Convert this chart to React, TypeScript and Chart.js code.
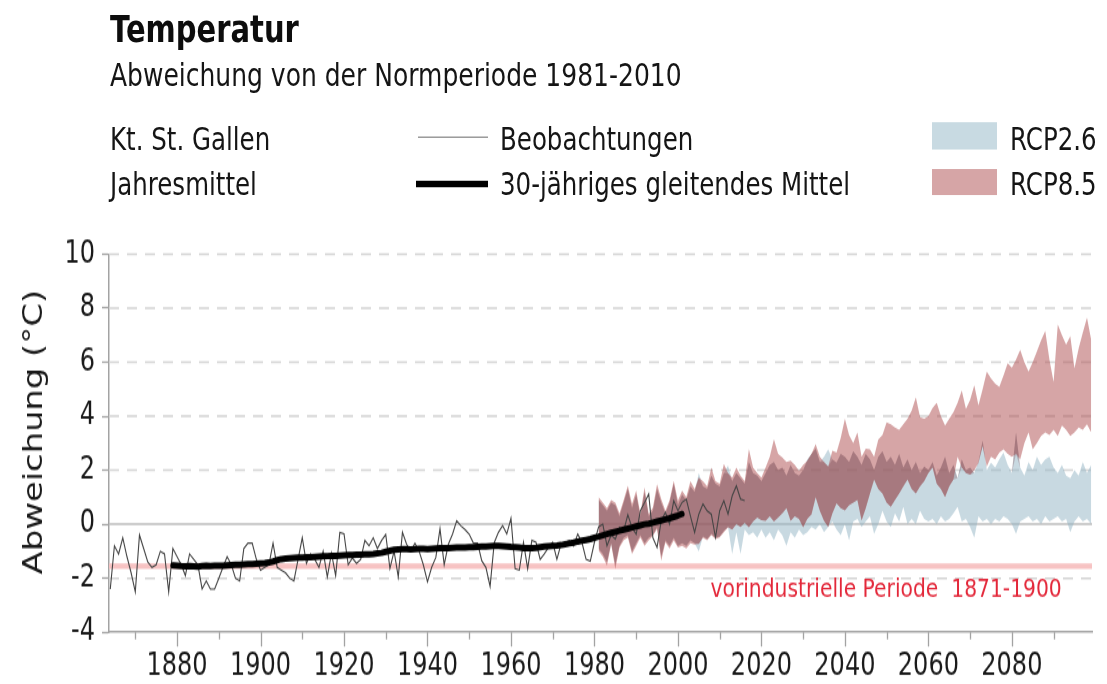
import React, { useEffect, useRef } from "react";
import { Chart, registerables } from "chart.js";

Chart.register(...registerables);

// ---------------- data ----------------
const OBS_START = 1864;
// annual mean anomaly, Kt. St. Gallen, 1864-2016
const OBS_VALUES = [
  -2.4, -0.8, -1.1, -0.5, -1.2, -1.8, -2.5, -0.4, -0.9, -1.4,
  -1.6, -1.5, -1.0, -1.1, -2.5, -0.9, -1.2, -1.5, -1.9, -1.1,
  -1.3, -1.5, -2.4, -2.1, -2.4, -2.4, -2.0, -1.6, -1.2, -1.5,
  -2.0, -2.1, -0.9, -0.7, -0.7, -1.3, -1.7, -1.6, -1.5, -0.7,
  -1.6, -1.7, -1.8, -2.0, -2.1, -1.3, -0.5, -1.45, -1.1, -1.3,
  -1.6, -1.0, -1.95, -1.07, -1.9, -0.3, -0.35, -1.5, -1.25, -1.45,
  -1.3, -0.6, -0.8, -0.5, -0.9, -0.6, -0.38, -1.64, -1.0, -1.95,
  -0.3, -0.74, -1.0, -0.7, -1.0, -1.5, -2.13, -1.6, -1.23, -0.17,
  -1.5, -0.74, -0.37, 0.13, -0.06, -0.2, -0.37, -0.7, -0.7, -1.35,
  -1.6, -2.3, -0.68, -0.3, -0.05, -0.36, 0.22, -1.65, -1.7, -0.67,
  -1.65, -0.6, -0.67, -1.3, -1.1, -0.86, -0.67, -1.3, -0.73, -0.67,
  -0.6, -0.8, -0.36, -0.67, -1.3, -1.37, -0.67, -0.1, 0.0, -0.8,
  -0.4, -0.55, -0.12, -0.24, 0.35, -0.12, -0.37, 0.5, 0.8, 1.12,
  -0.5, -0.86, 0.13, 0.44, 0.0, 0.87, 0.5, 0.81, 0.93, 0.3,
  -0.3, 0.37, 0.75, 0.5, 0.37, -0.49, 0.5, 0.87, 0.37, 1.05,
  1.42, 0.93, 0.87,
];

const SMOOTH_START = 1879;
// 30-year running mean, 1879-2001
const SMOOTH_VALUES = [
  -1.52, -1.53, -1.55, -1.56, -1.55, -1.56, -1.57, -1.55, -1.54, -1.55,
  -1.54, -1.53, -1.54, -1.52, -1.51, -1.5, -1.5, -1.49, -1.48, -1.47,
  -1.46, -1.45, -1.44, -1.42, -1.38, -1.33, -1.29, -1.27, -1.26, -1.25,
  -1.24, -1.23, -1.22, -1.22, -1.21, -1.2, -1.19, -1.18, -1.17, -1.17,
  -1.16, -1.15, -1.14, -1.14, -1.13, -1.12, -1.11, -1.11, -1.1, -1.08,
  -1.06, -1.02, -0.98, -0.95, -0.93, -0.92, -0.92, -0.93, -0.92, -0.91,
  -0.91, -0.92, -0.91, -0.9, -0.89, -0.88, -0.88, -0.87, -0.86, -0.86,
  -0.86, -0.85, -0.85, -0.84, -0.83, -0.82, -0.81, -0.8, -0.8, -0.81,
  -0.82, -0.84, -0.85, -0.86, -0.88, -0.89, -0.88, -0.87, -0.85, -0.83,
  -0.81, -0.8, -0.79, -0.77, -0.74, -0.71, -0.68, -0.64, -0.61, -0.58,
  -0.55, -0.5, -0.46, -0.41, -0.36, -0.32, -0.28, -0.24, -0.2, -0.16,
  -0.12, -0.08, -0.04, 0.0, 0.02, 0.06, 0.1, 0.14, 0.18, 0.22,
  0.27, 0.32, 0.38,
];

const PROJ_START = 1981;
// scenario ranges, 1981-2099
const RCP85_HIGH = [
  1.0, 0.8, 0.6, 0.9, 0.8, 0.4, 0.9, 1.43, 0.75, 1.24,
  0.38, 1.36, 0.38, 0.62, 1.49, 0.93, 0.5, 0.9, 1.61, 0.87,
  1.24, 1.0, 1.6, 1.3, 1.73, 1.6, 1.4, 2.1, 1.6, 1.5,
  2.23, 1.9, 1.73, 2.1, 1.8, 1.6, 2.78, 2.1, 1.9, 1.73,
  2.1, 2.5, 3.15, 2.6, 2.47, 2.3, 2.35, 2.2, 1.98, 2.2,
  2.35, 2.6, 2.97, 2.5, 2.3, 2.14, 2.72, 2.65, 3.2, 3.9,
  3.3, 3.0, 3.4, 2.5, 2.8, 2.77, 2.5, 3.14, 3.3, 3.77,
  3.7, 3.58, 3.5, 3.7, 3.9, 4.2, 4.7, 3.96, 3.9, 4.0,
  4.3, 4.5, 4.0, 3.65, 3.9, 4.15, 4.5, 4.95, 4.27, 4.6,
  5.14, 4.4, 5.0, 5.65, 5.4, 5.2, 5.08, 5.5, 5.96, 5.8,
  6.1, 6.46, 6.0, 5.65, 6.0, 6.4, 6.8, 7.15, 6.1, 5.27,
  7.4, 7.0, 6.65, 6.96, 5.77, 6.5, 7.1, 7.65, 6.83,
];
const RCP85_LOW = [
  -0.98, -1.2, -1.54, -0.73, -1.66, -0.86, -0.6, -0.49, -1.1, -0.8,
  -0.49, -0.8, -0.6, -0.43, -0.18, -1.35, -0.67, -0.9, -0.6, -0.86,
  -0.8, -0.9, -0.7, -0.75, -0.73, -0.5, -0.6, -0.4, -0.55, -0.49,
  -0.3, -0.12, -0.2, 0.0, -0.1, 0.05, -0.12, 0.1, 0.25, 0.15,
  0.12, 0.3, 0.1, 0.25, 0.4, 0.6, 0.12, 0.3, 0.2, -0.12,
  0.2, 0.37, 1.0, 0.5, 0.12, -0.1, 0.4, 0.77, 0.6, 0.51,
  0.7, 0.8, 0.9, 0.14, 0.6, 1.14, 1.65, 1.3, 1.14, 0.8,
  0.64, 0.9, 1.14, 1.4, 1.65, 1.3, 1.14, 1.4, 1.6, 1.9,
  2.1, 1.5, 1.3, 1.0, 1.4, 1.65, 2.5, 2.1, 1.9, 1.83,
  2.0, 2.27, 2.9, 2.14, 2.5, 2.4, 2.65, 2.77, 2.6, 2.5,
  2.6, 2.4, 3.0, 3.4, 2.77, 3.0, 3.27, 3.4, 3.3, 3.5,
  3.27, 3.65, 3.5, 3.27, 3.4, 3.58, 3.5, 3.7, 3.4,
];
const RCP26_HIGH = [
  0.9, 0.7, 0.5, 0.8, 0.7, 0.3, 0.8, 1.3, 0.6, 1.1,
  0.3, 1.2, 0.3, 0.5, 1.3, 0.8, 0.4, 0.8, 1.5, 0.7,
  1.1, 0.9, 1.4, 1.2, 1.9, 1.4, 1.3, 1.8, 1.5, 1.4,
  1.9, 2.17, 1.6, 1.9, 1.7, 1.5, 2.3, 1.9, 1.8, 1.6,
  1.9, 2.2, 2.3, 2.0, 2.1, 1.8, 2.2, 1.9, 1.8, 2.0,
  2.4, 2.6, 2.8, 2.3, 2.5, 2.77, 2.4, 2.28, 2.6, 2.5,
  2.3, 2.7, 2.5, 2.2, 2.6, 2.4, 2.0, 2.5, 2.7, 2.3,
  2.5, 2.2, 2.6, 2.1, 2.4, 2.0, 2.3, 1.9, 2.14, 2.0,
  2.3, 1.8, 2.1, 2.5, 1.9, 2.2, 1.7, 2.4, 2.0, 2.1,
  1.9, 2.3, 3.1, 2.0, 2.28, 2.1, 2.4, 2.65, 2.2, 1.9,
  3.4, 2.1, 1.8, 2.3, 2.0, 2.5, 2.2, 2.4, 2.5, 2.1,
  1.9, 2.2, 1.8, 1.7, 2.0, 1.8, 2.3, 1.9, 2.2,
];
const RCP26_LOW = [
  -0.9, -1.1, -1.4, -0.7, -1.5, -0.8, -0.5, -0.4, -1.0, -0.7,
  -0.4, -0.7, -0.5, -0.4, -0.1, -1.2, -0.6, -0.8, -0.5, -0.8,
  -0.7, -0.8, -0.6, -0.7, -1.0, -0.45, -0.55, -0.35, -0.5, -0.45,
  -0.25, -0.1, -1.1, -0.3, -1.1, -0.2, -0.4, -0.3, -0.5, -0.2,
  -0.5, -0.3, -0.6, -0.2, -0.4, -0.8, -0.3, -0.5, -0.2, -0.4,
  -0.3, -0.1, -0.2, 0.0, -0.3, -0.1, 0.1, -0.2, -0.4, 0.0,
  -0.6, 0.1, 0.2, -0.1, 0.1, 0.3, -0.35, 0.0, 0.5, 0.1,
  -0.1, 0.4, 0.1, 0.64, 0.0, 0.2, 0.0, 0.5, 0.2, 0.1,
  0.2, 0.0, 0.3, 0.1, 0.2, 0.4, 0.64, 0.1, 0.2, -0.1,
  -0.5, 0.3, 0.1, 0.2, 0.0, 0.2, 0.1, 0.3, 0.2, 0.0,
  -0.35, 0.1, 0.2, 0.3, 0.1, 0.2, 0.0, 0.3, 0.1, 0.2,
  0.3, 0.1, 0.2, -0.3, 0.1, 0.3, 0.1, 0.2, 0.0,
];

const PREINDUSTRIAL = -1.55;
const PREIND_LABEL = "vorindustrielle Periode  1871-1900";
const Y_TITLE = "Abweichung (°C)";
const X_MIN = 1863.7;
const X_MAX = 2099.2;
const Y_MIN = -4;
const Y_MAX = 10;
const X_LABEL_YEARS = [1880, 1900, 1920, 1940, 1960, 1980, 2000, 2020, 2040, 2060, 2080];

// ---------------- styling ----------------
const W = 1107;
const H = 526;
const STRETCH = 684 / H;
const FONT = '"DejaVu Sans", sans-serif';
const AXIS = "#a3a3a3";
const GRID = "#d4d4d4";
const ZERO = "#bcbcbc";
const PINK = "#f7c3c3";
const RED_TEXT = "#e3283a";
const BLUE_FILL = "rgba(145,180,196,0.5)";
const RED_FILL = "rgba(173,75,77,0.5)";
const OVERLAP_FILL = "rgba(110,40,50,0.24)";
const LEGEND_BLUE = "rgb(200,218,226)";
const LEGEND_RED = "rgb(214,165,166)";

const series = (start: number, values: (number | null)[]) =>
  values.map((v, i) => ({ x: start + i, y: v }));

const overlap = () => {
  const lo: { x: number; y: number }[] = [];
  const hi: { x: number; y: number }[] = [];
  RCP26_LOW.forEach((_, i) => {
    const l = Math.max(RCP26_LOW[i], RCP85_LOW[i]);
    const h = Math.min(RCP26_HIGH[i], RCP85_HIGH[i]);
    lo.push({ x: PROJ_START + i, y: Math.min(l, h) });
    hi.push({ x: PROJ_START + i, y: h });
  });
  return { lo, hi };
};

const decorPlugin = {
  id: "decor",
  beforeDatasetsDraw(chart: any) {
    const { ctx, chartArea: a, scales } = chart;
    const y = scales.y;
    ctx.save();
    y.ticks.forEach((t: any) => {
      if (t.value === Y_MIN) return;
      const py = y.getPixelForValue(t.value);
      ctx.beginPath();
      if (t.value === 0) {
        ctx.setLineDash([]);
        ctx.strokeStyle = ZERO;
      } else {
        ctx.setLineDash([10, 8]);
        ctx.strokeStyle = GRID;
      }
      ctx.lineWidth = 1.5;
      ctx.moveTo(a.left, py);
      ctx.lineTo(a.right, py);
      ctx.stroke();
    });
    ctx.setLineDash([]);
    const pp = y.getPixelForValue(PREINDUSTRIAL);
    ctx.strokeStyle = PINK;
    ctx.lineWidth = 4.2;
    ctx.beginPath();
    ctx.moveTo(a.left, pp);
    ctx.lineTo(a.right, pp);
    ctx.stroke();
    ctx.restore();
  },
  afterDraw(chart: any) {
    const { ctx, chartArea: a, scales } = chart;
    const x = scales.x;
    const y = scales.y;
    ctx.save();
    ctx.strokeStyle = AXIS;
    ctx.lineWidth = 1.3;
    x.ticks.forEach((t: any) => {
      if (t.value < X_MIN || t.value > X_MAX) return;
      const px = Math.round(x.getPixelForValue(t.value)) + 0.5;
      const len = t.value % 20 === 0 ? 11 : 5.5;
      ctx.beginPath();
      ctx.moveTo(px, a.bottom);
      ctx.lineTo(px, a.bottom + len);
      ctx.stroke();
    });
    ctx.fillStyle = RED_TEXT;
    ctx.font = `20.3px ${FONT}`;
    ctx.textAlign = "left";
    ctx.textBaseline = "middle";
    ctx.fillText(PREIND_LABEL, x.getPixelForValue(2007.8), y.getPixelForValue(-2.42));
    // y-axis title
    ctx.translate(35, (a.top + a.bottom) / 2 - 8.5);
    ctx.rotate(-Math.PI / 2);
    ctx.fillStyle = "#1a1a1a";
    ctx.font = `26px ${FONT}`;
    ctx.textAlign = "center";
    ctx.textBaseline = "middle";
    ctx.fillText(Y_TITLE, 0, 0);
    ctx.restore();
  },
};

const txt = (left: number, top: number, size: number, extra: any = {}) => ({
  position: "absolute" as const,
  left,
  top,
  fontSize: size,
  lineHeight: `${size}px`,
  whiteSpace: "nowrap" as const,
  ...extra,
});

export default function App() {
  const ref = useRef<HTMLCanvasElement | null>(null);

  useEffect(() => {
    if (!ref.current) return;
    const ov = overlap();
    const hidden = { borderColor: "rgba(0,0,0,0)", borderWidth: 0, pointRadius: 0, fill: false };
    const chart = new Chart(ref.current, {
      type: "line",
      data: {
        datasets: [
          {
            label: "30-jähriges gleitendes Mittel",
            data: series(SMOOTH_START, SMOOTH_VALUES),
            borderColor: "#000",
            borderWidth: 5,
            pointRadius: 0,
            fill: false,
            borderCapStyle: "round",
            borderJoinStyle: "round",
          },
          {
            label: "Beobachtungen",
            data: series(OBS_START, OBS_VALUES),
            borderColor: "#454545",
            borderWidth: 1.1,
            pointRadius: 0,
            fill: false,
          },
          { label: "ovlo", data: ov.lo, ...hidden },
          { label: "ovhi", data: ov.hi, ...hidden, fill: "-1", backgroundColor: OVERLAP_FILL },
          { label: "r85lo", data: series(PROJ_START, RCP85_LOW), ...hidden },
          { label: "RCP8.5", data: series(PROJ_START, RCP85_HIGH), ...hidden, fill: "-1", backgroundColor: RED_FILL },
          { label: "r26lo", data: series(PROJ_START, RCP26_LOW), ...hidden },
          { label: "RCP2.6", data: series(PROJ_START, RCP26_HIGH), ...hidden, fill: "-1", backgroundColor: BLUE_FILL },
        ] as any,
      },
      options: {
        animation: false,
        responsive: false,
        maintainAspectRatio: false,
        devicePixelRatio: 1,
        layout: { padding: { top: 195.4, right: 15, bottom: 0, left: 0 } },
        plugins: { legend: { display: false }, tooltip: { enabled: false }, title: { display: false } },
        elements: { line: { tension: 0 }, point: { radius: 0 } },
        scales: {
          x: {
            type: "linear",
            min: X_MIN,
            max: X_MAX,
            afterFit: (s: any) => {
              s.height = H - 486.2;
            },
            border: { display: true, color: AXIS, width: 1.5 },
            grid: { display: true, drawOnChartArea: false, drawTicks: true, tickLength: 11, tickColor: "rgba(0,0,0,0)" },
            ticks: {
              stepSize: 10,
              autoSkip: false,
              maxRotation: 0,
              minRotation: 0,
              includeBounds: false,
              padding: 1.5,
              color: "#1a1a1a",
              font: { family: FONT, size: 24 },
              callback: (v: any) => (X_LABEL_YEARS.includes(Number(v)) ? String(v) : ""),
            },
          },
          y: {
            type: "linear",
            min: Y_MIN,
            max: Y_MAX,
            afterFit: (s: any) => {
              s.width = 109;
            },
            border: { display: true, color: AXIS, width: 1.5 },
            grid: { display: true, drawOnChartArea: false, drawTicks: true, tickLength: 7, tickColor: AXIS, tickWidth: 1.3 },
            ticks: { stepSize: 2, padding: 7, color: "#1a1a1a", font: { family: FONT, size: 24 } },
            title: { display: false },
          },
        },
      } as any,
      plugins: [decorPlugin],
    });
    return () => chart.destroy();
  }, []);

  return (
    <div
      style={{
        position: "fixed",
        left: 0,
        top: 0,
        width: W,
        height: H,
        transform: `scaleY(${STRETCH})`,
        transformOrigin: "0 0",
        background: "#fff",
        fontFamily: FONT,
        color: "#151515",
        overflow: "hidden",
      }}
    >
      <canvas ref={ref} width={W} height={H} style={{ position: "absolute", left: 0, top: 0 }} />
      <div style={txt(110, 7.5, 29, { fontWeight: "bold", color: "#0d0d0d" })}>Temperatur</div>
      <div style={txt(110, 45, 25)}>Abweichung von der Normperiode 1981-2010</div>
      <div style={txt(110, 94.6, 24.5)}>Kt. St. Gallen</div>
      <div style={txt(110, 130, 24.5)}>Jahresmittel</div>
      <div style={{ position: "absolute", left: 418, top: 104.9, width: 70, height: 1, background: "#8a8a8a" }} />
      <div style={{ position: "absolute", left: 416, top: 138.5, width: 72, height: 5.4, background: "#000" }} />
      <div style={txt(500, 94.6, 24.5)}>Beobachtungen</div>
      <div style={txt(500, 130, 24.5)}>30-jähriges gleitendes Mittel</div>
      <div style={{ position: "absolute", left: 932, top: 94.4, width: 65, height: 20.4, background: LEGEND_BLUE }} />
      <div style={{ position: "absolute", left: 932, top: 129.5, width: 65, height: 20.5, background: LEGEND_RED }} />
      <div style={txt(1010, 94.6, 24.5)}>RCP2.6</div>
      <div style={txt(1010, 130, 24.5)}>RCP8.5</div>
    </div>
  );
}
